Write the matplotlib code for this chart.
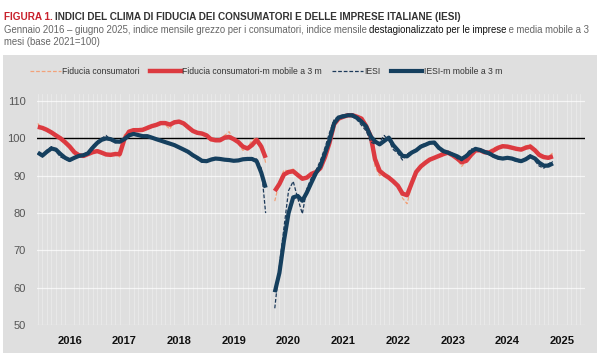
import numpy as np
import pandas as pd
import matplotlib
matplotlib.use("Agg")
import matplotlib.pyplot as plt
import matplotlib.dates as mdates
from matplotlib.lines import Line2D
from matplotlib.patches import Rectangle
from matplotlib.font_manager import fontManager

nan = np.nan

# Fiducia consumatori, indice mensile grezzo (base 2021=100), gen 2016 - giu 2025
cons_raw = [
    104.0, 102.5, 102.0, 101.2, 100.2, 100.5, 98.5, 97.5, 96.0, 95.0, 95.3, 96.0,
    96.8, 96.8, 95.8, 95.5, 95.3, 96.3, 95.0, 101.0, 102.0, 102.5, 101.8, 102.6,
    103.2, 103.6, 103.8, 104.5, 103.6, 102.5, 104.8, 104.6, 103.8, 102.5, 101.6, 101.3,
    101.0, 100.5, 99.3, 99.6, 99.4, 100.8, 101.8, 99.5, 98.5, 96.8, 97.5, 99.5,
    100.2, 98.5, 93.5, nan, 83.2, 88.5, 91.5, 91.3, 91.8, 90.2, 89.0, 90.0,
    90.5, 91.5, 92.8, 96.0, 100.0, 104.5, 105.8, 105.6, 106.5, 106.3, 105.5, 104.8,
    102.5, 99.5, 92.5, 90.0, 90.8, 89.0, 88.5, 87.0, 84.0, 82.5, 87.5, 90.5,
    92.5, 93.5, 94.8, 94.5, 95.5, 96.5, 96.0, 95.0, 94.5, 92.5, 94.0, 96.0,
    96.6, 97.4, 96.0, 96.5, 97.5, 97.8, 98.3, 97.4, 97.6, 96.8, 97.2, 98.0,
    98.4, 96.5, 95.0, 94.6, 95.0, 96.2,
]

# Fiducia consumatori, media mobile a 3 mesi
cons_mm = [
    103.1, 102.8, 102.3, 101.6, 100.8, 100.0, 99.0, 97.8, 96.3, 95.5, 95.3, 95.8,
    96.3, 96.6, 96.2, 95.7, 95.6, 95.8, 95.8, 99.8, 101.8, 102.2, 102.2, 102.3,
    102.8, 103.3, 103.6, 104.1, 104.1, 103.7, 104.3, 104.5, 104.0, 103.0, 102.0, 101.5,
    101.3, 100.8, 99.8, 99.5, 99.5, 100.2, 100.4, 99.8, 99.0, 97.8, 97.3, 98.2,
    99.6, 97.8, 94.8, nan, 85.9, 87.8, 90.3, 91.0, 91.2, 90.2, 89.2, 89.5,
    90.5, 91.0, 92.0, 95.0, 98.8, 103.8, 105.3, 105.8, 106.2, 106.2, 105.8, 105.3,
    103.3, 100.5, 94.5, 91.3, 90.3, 89.5, 88.5, 87.3, 85.2, 84.8, 88.0, 91.0,
    92.5, 93.5, 94.3, 94.8, 95.3, 95.8, 96.2, 95.5, 94.6, 93.6, 94.0, 95.5,
    96.8, 96.8, 96.3, 96.2, 96.8, 97.5, 97.9, 97.8, 97.5, 97.2, 97.0, 97.5,
    97.8, 96.8, 95.6, 95.0, 94.8, 95.2,
]

# IESI, indice mensile destagionalizzato
iesi_raw = [
    96.0, 95.0, 96.8, 97.8, 96.5, 95.0, 94.5, 93.8, 95.0, 95.5, 95.6, 96.3,
    98.0, 99.2, 100.0, 100.8, 99.6, 98.8, 99.0, 100.2, 101.2, 101.3, 100.6, 100.8,
    100.4, 100.3, 99.6, 99.2, 98.9, 98.5, 98.0, 97.4, 96.8, 96.1, 95.2, 94.4,
    93.6, 94.0, 94.6, 94.8, 94.3, 94.2, 94.0, 93.9, 94.2, 94.6, 94.5, 94.3,
    94.5, 92.0, 80.0, nan, 54.5, 66.0, 76.0, 86.0, 88.5, 84.0, 79.8, 86.5,
    89.5, 91.5, 94.0, 97.5, 101.5, 105.0, 106.0, 106.3, 106.0, 105.8, 105.0, 103.5,
    102.0, 99.0, 98.5, 99.0, 100.8, 99.5, 97.0, 96.0, 94.2, 95.8, 96.5, 97.0,
    98.2, 98.6, 98.9, 98.5, 97.0, 96.2, 96.0, 95.6, 94.6, 94.0, 95.8, 97.2,
    97.0, 96.5, 96.3, 95.6, 95.0, 94.5, 94.7, 95.0, 94.3, 93.8, 93.6, 94.8,
    95.6, 94.0, 92.6, 92.0, 93.2, 93.8,
]

# IESI, media mobile a 3 mesi
iesi_mm = [
    96.2, 95.4, 96.4, 97.3, 97.0, 95.8, 94.8, 94.2, 94.8, 95.3, 95.5, 96.0,
    97.5, 98.8, 99.6, 100.0, 99.8, 99.2, 99.1, 99.8, 100.8, 101.2, 100.9, 100.6,
    100.6, 100.2, 99.8, 99.4, 99.0, 98.6, 98.2, 97.6, 97.0, 96.4, 95.5, 94.8,
    94.0, 93.9, 94.3, 94.6, 94.5, 94.3, 94.2, 94.0, 94.1, 94.4, 94.5, 94.5,
    93.9, 90.8, 86.8, nan, 58.8, 64.0, 72.5, 80.0, 84.2, 84.6, 83.3, 85.5,
    88.2, 90.8, 92.5, 96.0, 99.5, 104.0, 105.6, 105.9, 106.2, 106.2, 105.5, 104.5,
    103.2, 100.5, 99.2, 98.4, 99.3, 100.2, 98.2, 96.8, 95.3, 95.2, 96.2, 96.8,
    97.8, 98.3, 98.8, 98.9, 97.5, 96.6, 96.2, 95.7, 95.2, 94.5, 95.3, 96.4,
    97.2, 96.9, 96.4, 96.0, 95.3, 94.8, 94.6, 94.8, 94.6, 94.2, 93.9, 94.4,
    95.2, 94.6, 93.5, 92.7, 92.7, 93.3,
]

years = [2016, 2017, 2018, 2019, 2020, 2021, 2022, 2023, 2024, 2025]
months = pd.date_range("2016-01-01", periods=len(cons_raw), freq="MS")

names = {f.name for f in fontManager.ttflist}
narrow = "Liberation Sans Narrow" if "Liberation Sans Narrow" in names else "Liberation Sans"
plt.rcParams["font.family"] = [narrow, "DejaVu Sans"]

RED = "#dc3a40"
NAVY = "#153f5e"
ORANGE = "#f2a27a"
DNAVY = "#1d3a5a"
GRAY_BG = "#dfdfdf"

fig = plt.figure(figsize=(6, 3.6), dpi=100)
fig.patch.set_facecolor("white")
fig.patches.append(Rectangle((0.005, 0.019), 0.99, 0.828, transform=fig.transFigure,
                             facecolor=GRAY_BG, edgecolor="none", zorder=-10))

ax = fig.add_axes([0.062, 0.097, 0.913, 0.643])
ax.set_facecolor(GRAY_BG)

ax.plot(months, cons_raw, color=ORANGE, lw=0.9, ls=(0, (3, 1.5)), zorder=3)
ax.plot(months, cons_mm, color=RED, lw=3.2, zorder=4, solid_capstyle="butt")
ax.plot(months, iesi_raw, color=DNAVY, lw=0.9, ls=(0, (3, 1.5)), zorder=5)
ax.plot(months, iesi_mm, color=NAVY, lw=3.0, zorder=6, solid_capstyle="butt")
ax.axhline(100, color="black", lw=1.0, zorder=2)

ax.set_ylim(50, 112)
ax.set_yticks([50, 60, 70, 80, 90, 100, 110])
ax.set_xlim(pd.Timestamp("2015-12-28"), pd.Timestamp("2026-01-01"))
ax.set_xticks([pd.Timestamp(f"{y}-08-01") for y in years])
ax.set_xticklabels([str(y) for y in years], fontweight="bold", fontsize=8, color="#111111")
ax.xaxis.set_minor_locator(mdates.MonthLocator())
ax.tick_params(axis="y", length=0, pad=8, labelsize=8, labelcolor="#555555")
ax.tick_params(axis="x", which="both", length=0, pad=8)
ax.grid(axis="y", color="white", lw=0.9, alpha=0.7)
ax.grid(axis="x", which="minor", color="white", lw=0.6, alpha=0.35)
ax.grid(axis="x", which="major", visible=False)
for s in ax.spines.values():
    s.set_visible(False)

# titolo e sottotitolo, pezzi affiancati
fig.canvas.draw()
r = fig.canvas.get_renderer()
W = fig.bbox.width


def chain(parts, x, y, size, weight="normal"):
    for txt, col in parts:
        t = fig.text(x, y, txt, color=col, fontsize=size, fontweight=weight, va="center")
        x = t.get_window_extent(r).x1 / W
    return x


chain([("FIGURA 1. ", "#c8202b"),
       ("INDICI DEL CLIMA DI FIDUCIA DEI CONSUMATORI E DELLE IMPRESE ITALIANE (IESI)", "#333333")],
      0.006, 0.952, 7.2, "bold")
chain([("Gennaio 2016 \u2013 giugno 2025, indice mensile grezzo per i consumatori, indice mensile ", "#666666"),
       ("destagionalizzato per le imprese", "#111111"),
       (" e media mobile a 3", "#666666")],
      0.006, 0.916, 6.9)
fig.text(0.006, 0.884, "mesi (base 2021=100)", color="#666666", fontsize=6.9, va="center")

handles = [
    Line2D([], [], color=ORANGE, lw=0.9, ls=(0, (3, 1.5))),
    Line2D([], [], color=RED, lw=3.2),
    Line2D([], [], color=DNAVY, lw=0.9, ls=(0, (3, 1.5))),
    Line2D([], [], color=NAVY, lw=3.0),
]
labels = ["Fiducia consumatori", "Fiducia consumatori-m mobile a 3 m", "IESI", "IESI-m mobile a 3 m"]
fig.legend(handles, labels, loc="center", bbox_to_anchor=(0.443, 0.8), ncol=4, frameon=False,
           fontsize=6.2, handlelength=3.6, handletextpad=0.15, columnspacing=1.2,
           labelcolor="#333333")

fig.savefig("out.png", dpi=100, facecolor="white")
